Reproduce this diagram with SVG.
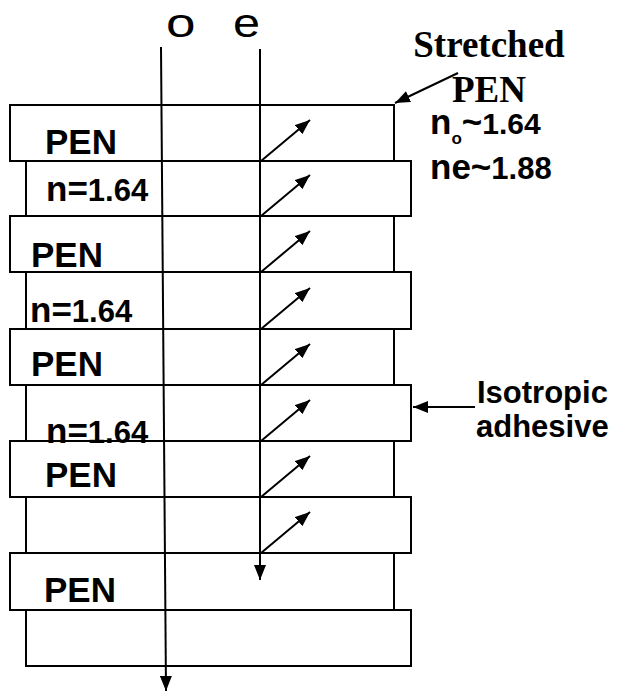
<svg xmlns="http://www.w3.org/2000/svg" width="620" height="692" viewBox="0 0 620 692">
<style>
.layer{fill:none;stroke:#000;stroke-width:2}
.ln{stroke:#000;stroke-width:2;fill:none}
.lab{font-family:"Liberation Sans",Arial,sans-serif;font-weight:bold;fill:#000}
.big{font-size:35px}
.num{font-size:31px}
.serif{font-family:"Liberation Serif","Times New Roman",serif;font-weight:bold;font-size:37px;fill:#000}
.ray{font-family:"Liberation Sans",Arial,sans-serif;font-size:40px;fill:#000}
</style>
<defs>
<marker id="ah" markerUnits="userSpaceOnUse" markerWidth="15" markerHeight="12" refX="15" refY="6" orient="auto" viewBox="0 0 15 12">
<path d="M0,0 L15,6 L0,12 z" fill="#000"/>
</marker>
</defs>
<rect width="620" height="692" fill="#fff"/>

<g id="pen1"><rect class="layer" x="10" y="105" width="384" height="56"/><text class="lab big" x="45" y="154">PEN</text></g>
<g id="adh1"><rect class="layer" x="26" y="161" width="385" height="55"/><text class="lab" x="46" y="201"><tspan class="big">n=</tspan><tspan class="num">1.64</tspan></text></g>
<g id="pen2"><rect class="layer" x="10" y="216" width="384" height="56"/><text class="lab big" x="31" y="267">PEN</text></g>
<g id="adh2"><rect class="layer" x="26" y="272" width="385" height="57"/><text class="lab" x="30" y="322"><tspan class="big">n=</tspan><tspan class="num">1.64</tspan></text></g>
<g id="pen3"><rect class="layer" x="10" y="329" width="384" height="56"/><text class="lab big" x="31" y="376">PEN</text></g>
<g id="adh3"><rect class="layer" x="26" y="385" width="385" height="56"/><text class="lab" x="46" y="443"><tspan class="big">n=</tspan><tspan class="num">1.64</tspan></text></g>
<g id="pen4"><rect class="layer" x="10" y="441" width="384" height="56"/><text class="lab big" x="45" y="487">PEN</text></g>
<g id="adh4"><rect class="layer" x="26" y="497" width="385" height="56"/></g>
<g id="pen5"><rect class="layer" x="10" y="553" width="384" height="57"/><text class="lab big" x="44" y="602">PEN</text></g>
<g id="adh5"><rect class="layer" x="26" y="610" width="385" height="56"/></g>

<g id="ray-labels">
<text class="ray" x="166" y="37" textLength="29.5" lengthAdjust="spacingAndGlyphs">o</text>
<text class="ray" x="233" y="37" textLength="27" lengthAdjust="spacingAndGlyphs">e</text>
</g>

<g id="stretched-label">
<text class="serif" x="489" y="57" text-anchor="middle">Stretched</text>
<text class="serif" x="489" y="102" text-anchor="middle">PEN</text>
<text class="lab" x="430" y="134"><tspan class="big">n</tspan><tspan font-size="17" dy="10">o</tspan><tspan class="big" dy="-10">~</tspan><tspan font-size="30">1.64</tspan></text>
<text class="lab" x="430" y="179"><tspan class="big">ne~</tspan><tspan font-size="31">1.88</tspan></text>
</g>

<g id="adhesive-label">
<text class="lab" x="477" y="403" font-size="31">Isotropic</text>
<text class="lab" x="476" y="437" font-size="31">adhesive</text>
</g>

<g id="connectors">
<line class="ln" x1="161" y1="47" x2="166" y2="691" marker-end="url(#ah)"/>
<line class="ln" x1="260" y1="49" x2="260" y2="580" marker-end="url(#ah)"/>
<line class="ln" x1="261" y1="161" x2="310" y2="120" marker-end="url(#ah)"/>
<line class="ln" x1="261" y1="216" x2="310" y2="175" marker-end="url(#ah)"/>
<line class="ln" x1="261" y1="272" x2="310" y2="231" marker-end="url(#ah)"/>
<line class="ln" x1="261" y1="329" x2="310" y2="288" marker-end="url(#ah)"/>
<line class="ln" x1="261" y1="385" x2="310" y2="344" marker-end="url(#ah)"/>
<line class="ln" x1="261" y1="441" x2="310" y2="400" marker-end="url(#ah)"/>
<line class="ln" x1="261" y1="497" x2="310" y2="456" marker-end="url(#ah)"/>
<line class="ln" x1="261" y1="553" x2="310" y2="512" marker-end="url(#ah)"/>
<line class="ln" x1="458" y1="73" x2="395" y2="103" marker-end="url(#ah)"/>
<line class="ln" x1="475" y1="407" x2="413" y2="407" marker-end="url(#ah)"/>
</g>
</svg>
